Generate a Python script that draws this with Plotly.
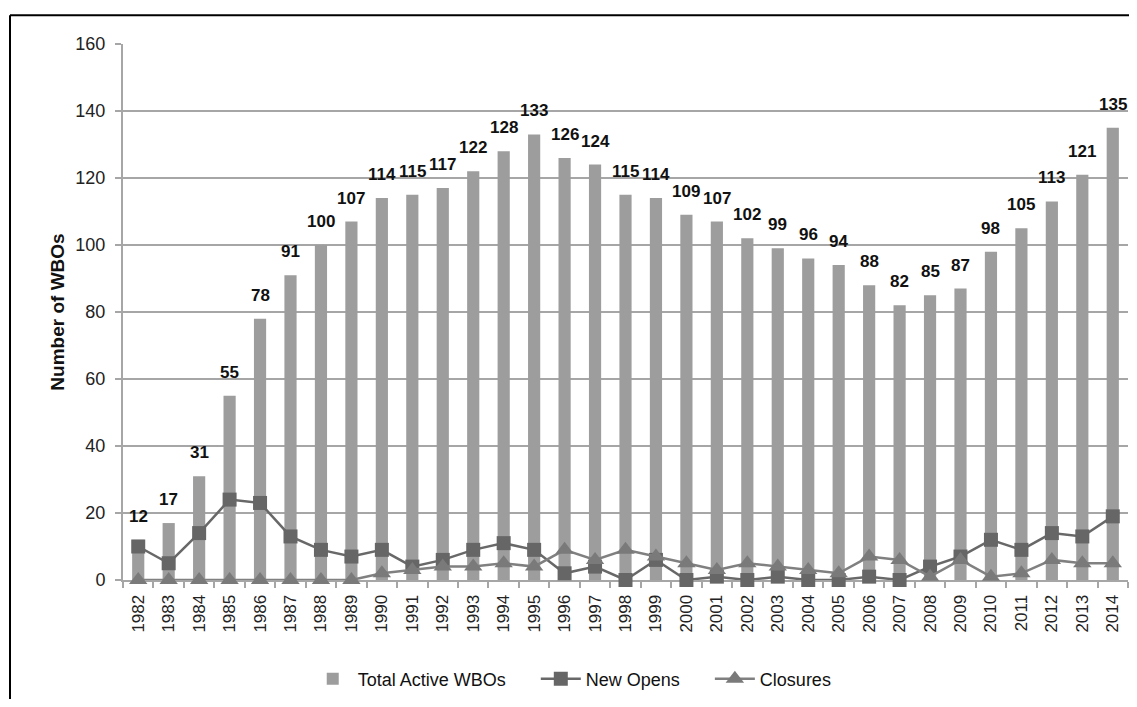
import plotly.graph_objects as go

years = [str(y) for y in range(1982, 2015)]
total_active = [12, 17, 31, 55, 78, 91, 100, 107, 114, 115, 117, 122, 128, 133, 126, 124,
                115, 114, 109, 107, 102, 99, 96, 94, 88, 82, 85, 87, 98, 105, 113, 121, 135]
new_opens = [10, 5, 14, 24, 23, 13, 9, 7, 9, 4, 6, 9, 11, 9, 2, 4,
             0, 6, 0, 1, 0, 1, 0, 0, 1, 0, 4, 7, 12, 9, 14, 13, 19]
closures = [0, 0, 0, 0, 0, 0, 0, 0, 2, 3, 4, 4, 5, 4, 9, 6,
            9, 7, 5, 3, 5, 4, 3, 2, 7, 6, 1, 6, 1, 2, 6, 5, 5]

FONT = "Liberation Sans, Arial, sans-serif"
PAD = "\u00a0" * 5

fig = go.Figure()
fig.add_trace(go.Bar(
    x=years, y=total_active, name="Total Active WBOs" + PAD,
    marker=dict(color="#9d9d9d", line=dict(width=0)),
))
fig.add_trace(go.Scatter(
    x=years, y=new_opens, name="New Opens" + PAD, mode="lines+markers",
    line=dict(color="#686868", width=2.5),
    marker=dict(symbol="square", size=14, color="#666666"),
    cliponaxis=False,
))
fig.add_trace(go.Scatter(
    x=years, y=closures, name="Closures", mode="lines+markers",
    line=dict(color="#808080", width=2.5),
    marker=dict(symbol="triangle-up", size=16, color="#7a7a7a"),
    cliponaxis=False,
))

# value labels above the bars, anchored to the data (category index on x)
annotations = [
    dict(x=i, y=v, xref="x", yref="y", text=f"<b>{v}</b>", showarrow=False,
         yanchor="bottom", yshift=12,
         font=dict(family=FONT, size=17, color="#111111"))
    for i, v in enumerate(total_active)
]

# page has an 8px body margin; figure sized to fit in the window
OFF = 8
W, H = 1137 - 2 * OFF, 707 - 2 * OFF
L, T = 123 - OFF, 44 - OFF
R = W - (1128 - OFF)
B = H - (584 - OFF)
pw = W - L - R
ph = H - T - B
bx = (10 - OFF - L) / pw
by = 1 + (T - (15 - OFF)) / ph

fig.update_layout(
    width=W, height=H,
    margin=dict(l=L, r=R, t=T, b=B),
    paper_bgcolor="white", plot_bgcolor="white",
    font=dict(family=FONT, size=18, color="#222222"),
    bargap=0.6,
    showlegend=True,
    annotations=annotations,
    legend=dict(orientation="h", x=0.447, xanchor="center", y=-0.185, yanchor="middle",
                font=dict(size=18, color="#111111"), itemwidth=40, traceorder="normal"),
    xaxis=dict(
        type="category", range=[-0.5, 32.5], tickangle=-90, showgrid=False,
        showline=True, linecolor="#a6a6a6", linewidth=2, layer="below traces",
        ticks="outside", tickson="boundaries", ticklen=6, tickcolor="#a6a6a6", tickwidth=2,
        ticklabelstandoff=6,
        tickfont=dict(size=17, color="#222222"),
    ),
    yaxis=dict(
        range=[0, 160], dtick=20, tick0=0,
        showgrid=True, gridcolor="#a6a6a6", gridwidth=2,
        zeroline=False, layer="below traces",
        showline=True, linecolor="#a6a6a6", linewidth=2,
        ticks="outside", ticklen=6, tickcolor="#a6a6a6", tickwidth=2,
        ticklabelstandoff=6,
        tickfont=dict(size=18, color="#222222"),
        title=dict(text="<b>Number of WBOs</b>", font=dict(size=19, color="#111111"), standoff=6),
    ),
    shapes=[
        dict(type="line", xref="paper", yref="paper", x0=bx, x1=bx, y0=by, y1=-0.4,
             line=dict(color="black", width=2)),
        dict(type="line", xref="paper", yref="paper", x0=bx, x1=1.2, y0=by, y1=by,
             line=dict(color="black", width=2)),
    ],
)

fig.write_html("out.html")
